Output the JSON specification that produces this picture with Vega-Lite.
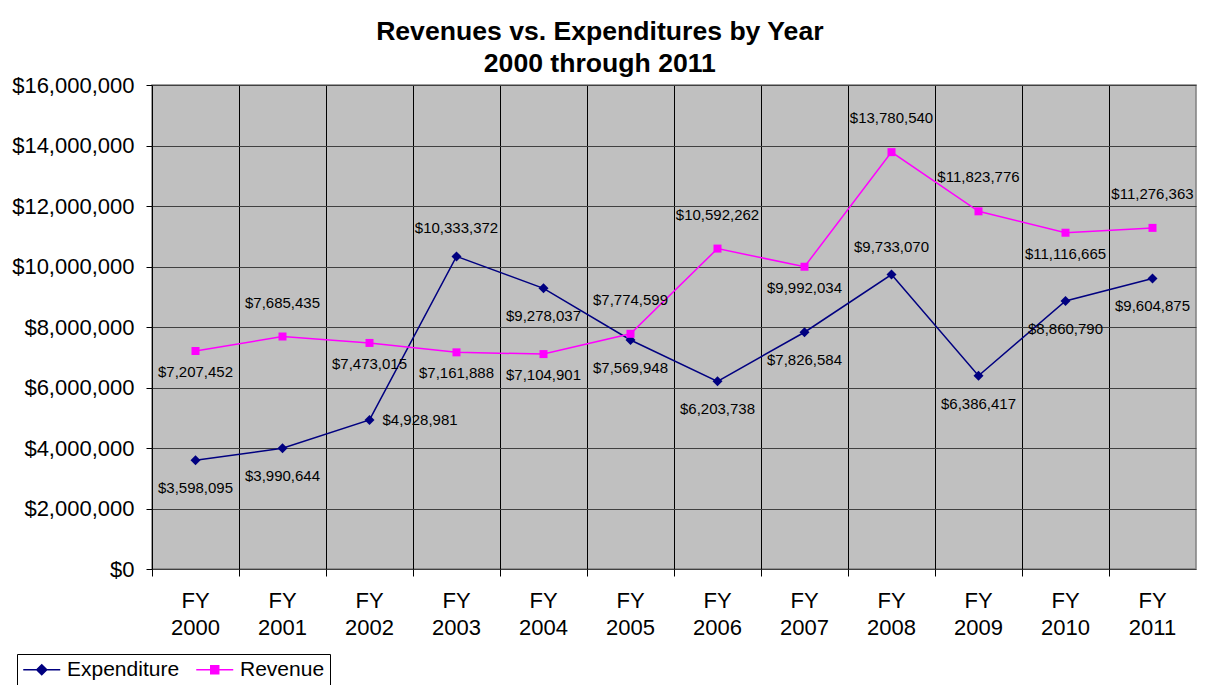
{
  "$schema": "https://vega.github.io/schema/vega-lite/v6.json",
  "width": 1044,
  "height": 484,
  "padding": {"left": 11, "top": 19, "right": 12, "bottom": 0},
  "background": "white",
  "title": {
    "text": ["Revenues vs. Expenditures by Year", "2000 through 2011"],
    "font": "Liberation Sans",
    "fontSize": 26.6,
    "fontWeight": "bold",
    "color": "black",
    "lineHeight": 32,
    "anchor": "middle",
    "frame": "bounds",
    "offset": -4,
    "dx": -4
  },
  "config": {
    "font": "Liberation Sans",
    "view": {"fill": "#C0C0C0", "stroke": "#808080", "strokeWidth": 1.5},
    "axis": {"labelFont": "Liberation Sans", "labelColor": "black", "tickColor": "black", "domain": false}
  },
  "data": {
    "values": [
      {"year": "FY 2000", "series": "Expenditure", "value": 3598095},
      {"year": "FY 2001", "series": "Expenditure", "value": 3990644},
      {"year": "FY 2002", "series": "Expenditure", "value": 4928981},
      {"year": "FY 2003", "series": "Expenditure", "value": 10333372},
      {"year": "FY 2004", "series": "Expenditure", "value": 9278037},
      {"year": "FY 2005", "series": "Expenditure", "value": 7569948},
      {"year": "FY 2006", "series": "Expenditure", "value": 6203738},
      {"year": "FY 2007", "series": "Expenditure", "value": 7826584},
      {"year": "FY 2008", "series": "Expenditure", "value": 9733070},
      {"year": "FY 2009", "series": "Expenditure", "value": 6386417},
      {"year": "FY 2010", "series": "Expenditure", "value": 8860790},
      {"year": "FY 2011", "series": "Expenditure", "value": 9604875},
      {"year": "FY 2000", "series": "Revenue", "value": 7207452},
      {"year": "FY 2001", "series": "Revenue", "value": 7685435},
      {"year": "FY 2002", "series": "Revenue", "value": 7473015},
      {"year": "FY 2003", "series": "Revenue", "value": 7161888},
      {"year": "FY 2004", "series": "Revenue", "value": 7104901},
      {"year": "FY 2005", "series": "Revenue", "value": 7774599},
      {"year": "FY 2006", "series": "Revenue", "value": 10592262},
      {"year": "FY 2007", "series": "Revenue", "value": 9992034},
      {"year": "FY 2008", "series": "Revenue", "value": 13780540},
      {"year": "FY 2009", "series": "Revenue", "value": 11823776},
      {"year": "FY 2010", "series": "Revenue", "value": 11116665},
      {"year": "FY 2011", "series": "Revenue", "value": 11276363}
    ]
  },
  "encoding": {
    "x": {
      "field": "year",
      "type": "ordinal",
      "scale": {"type": "band", "paddingInner": 0, "paddingOuter": 0},
      "axis": {
        "title": null,
        "labelAngle": 0,
        "labelFontSize": 22,
        "labelLineHeight": 27,
        "labelExpr": "split(datum.label, ' ')",
        "labelPadding": 14,
        "tickSize": 7,
        "bandPosition": 0,
        "grid": true,
        "gridColor": "black",
        "gridWidth": 1,
        "gridOpacity": 1
      }
    },
    "y": {
      "field": "value",
      "type": "quantitative",
      "scale": {"domain": [0, 16000000], "nice": false},
      "axis": {
        "title": null,
        "values": [0, 2000000, 4000000, 6000000, 8000000, 10000000, 12000000, 14000000, 16000000],
        "format": "$,.0f",
        "labelFontSize": 22,
        "labelPadding": 12,
        "tickSize": 6,
        "grid": true,
        "gridColor": "#404040",
        "gridWidth": 1,
        "gridOpacity": 1
      }
    },
    "color": {
      "field": "series",
      "type": "nominal",
      "scale": {"domain": ["Expenditure", "Revenue"], "range": ["#000080", "#FF00FF"]},
      "legend": {
        "title": null,
        "orient": "none",
        "legendX": -135,
        "legendY": 569,
        "direction": "horizontal",
        "columns": 2,
        "strokeColor": "black",
        "fillColor": "white",
        "padding": 5,
        "symbolSize": 342,
        "labelFontSize": 21,
        "labelFont": "Liberation Sans",
        "labelColor": "black",
        "labelOffset": 24,
        "columnPadding": 13,
        "encode": {
          "symbols": {
            "update": {
              "shape": {"signal": "datum.value === 'Expenditure' ? 'M-1,0H3M0.46,0L1,-0.54L1.54,0L1,0.54Z' : 'M-1,0H3M0.57,-0.43H1.43V0.43H0.57Z'"},
              "fill": {"signal": "datum.value === 'Expenditure' ? '#000080' : '#FF00FF'"},
              "stroke": {"signal": "datum.value === 'Expenditure' ? '#000080' : '#FF00FF'"},
              "strokeWidth": {"value": 1.5},
              "opacity": {"value": 1}
            }
          }
        }
      }
    }
  },
  "layer": [
    {
      "mark": {"type": "line", "strokeWidth": 1.5}
    },
    {
      "transform": [{"filter": "datum.series === 'Expenditure'"}],
      "mark": {"type": "point", "filled": true, "opacity": 1, "shape": "diamond", "size": 100}
    },
    {
      "transform": [{"filter": "datum.series === 'Revenue'"}],
      "mark": {"type": "point", "filled": true, "opacity": 1, "shape": "square", "size": 64}
    },
    {
      "transform": [
        {"filter": "datum.series === 'Expenditure' && indexof(['FY 2002','FY 2003','FY 2008'], datum.year) < 0"}
      ],
      "mark": {"type": "text", "fontSize": 15, "font": "Liberation Sans", "dy": 28},
      "encoding": {"text": {"field": "value", "type": "quantitative", "format": "$,.0f"}, "color": {"value": "black"}}
    },
    {
      "transform": [
        {"filter": "datum.series === 'Expenditure' && indexof(['FY 2003','FY 2008'], datum.year) >= 0"}
      ],
      "mark": {"type": "text", "fontSize": 15, "font": "Liberation Sans", "dy": -28},
      "encoding": {"text": {"field": "value", "type": "quantitative", "format": "$,.0f"}, "color": {"value": "black"}}
    },
    {
      "transform": [
        {"filter": "datum.series === 'Expenditure' && datum.year === 'FY 2002'"}
      ],
      "mark": {"type": "text", "fontSize": 15, "font": "Liberation Sans", "align": "left", "dx": 13},
      "encoding": {"text": {"field": "value", "type": "quantitative", "format": "$,.0f"}, "color": {"value": "black"}}
    },
    {
      "transform": [
        {"filter": "datum.series === 'Revenue' && indexof(['FY 2001','FY 2005','FY 2006','FY 2008','FY 2009','FY 2011'], datum.year) >= 0"}
      ],
      "mark": {"type": "text", "fontSize": 15, "font": "Liberation Sans", "dy": -34},
      "encoding": {"text": {"field": "value", "type": "quantitative", "format": "$,.0f"}, "color": {"value": "black"}}
    },
    {
      "transform": [
        {"filter": "datum.series === 'Revenue' && indexof(['FY 2000','FY 2002','FY 2003','FY 2004','FY 2007','FY 2010'], datum.year) >= 0"}
      ],
      "mark": {"type": "text", "fontSize": 15, "font": "Liberation Sans", "dy": 21},
      "encoding": {"text": {"field": "value", "type": "quantitative", "format": "$,.0f"}, "color": {"value": "black"}}
    }
  ]
}
